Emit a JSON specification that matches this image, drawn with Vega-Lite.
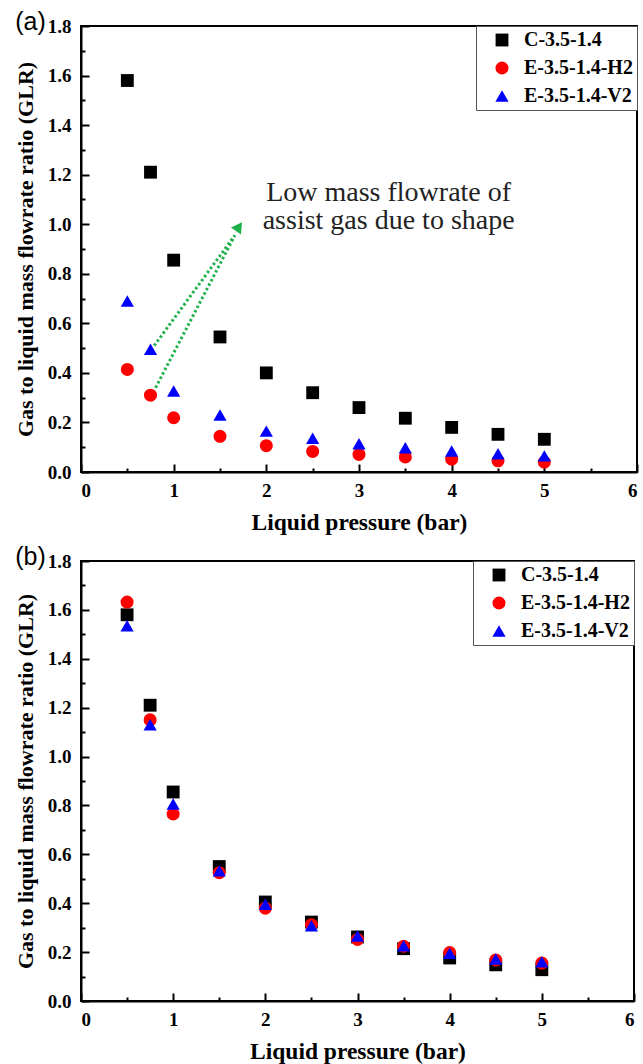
{
  "$schema": "https://vega.github.io/schema/vega-lite/v6.json",
  "padding": {"left": 13, "top": 9, "right": 0, "bottom": 0},
  "spacing": 9,
  "config": {
    "view": {"stroke": "black", "strokeWidth": 2},
    "font": "Liberation Serif",
    "axis": {
      "grid": false,
      "domainColor": "black",
      "domainWidth": 2,
      "tickColor": "black",
      "tickWidth": 2,
      "labelFont": "Liberation Serif",
      "labelFontWeight": "bold",
      "labelFontSize": 19,
      "labelColor": "black",
      "titleFont": "Liberation Serif",
      "titleFontWeight": "bold",
      "titleColor": "black"
    },
    "legend": {
      "orient": "top-right",
      "offset": 0,
      "strokeColor": "#555555",
      "fillColor": "white",
      "padding": 4,
      "labelFont": "Liberation Serif",
      "labelFontWeight": "bold",
      "labelFontSize": 20,
      "labelColor": "black",
      "symbolSize": 170,
      "symbolStrokeWidth": 0,
      "rowPadding": 8,
      "labelOffset": 12,
      "symbolOffset": 12
    },
    "title": {
      "font": "Liberation Sans",
      "fontSize": 25,
      "fontWeight": "normal",
      "color": "black",
      "anchor": "start",
      "frame": "bounds",
      "offset": -18,
      "dx": 1
    }
  },
  "datasets": {
    "a": [
      {"p": 0.5, "glr": 1.58, "series": "C-3.5-1.4"},
      {"p": 0.75, "glr": 1.21, "series": "C-3.5-1.4"},
      {"p": 1, "glr": 0.855, "series": "C-3.5-1.4"},
      {"p": 1.5, "glr": 0.545, "series": "C-3.5-1.4"},
      {"p": 2, "glr": 0.40, "series": "C-3.5-1.4"},
      {"p": 2.5, "glr": 0.32, "series": "C-3.5-1.4"},
      {"p": 3, "glr": 0.26, "series": "C-3.5-1.4"},
      {"p": 3.5, "glr": 0.217, "series": "C-3.5-1.4"},
      {"p": 4, "glr": 0.18, "series": "C-3.5-1.4"},
      {"p": 4.5, "glr": 0.152, "series": "C-3.5-1.4"},
      {"p": 5, "glr": 0.132, "series": "C-3.5-1.4"},
      {"p": 0.5, "glr": 0.414, "series": "E-3.5-1.4-H2"},
      {"p": 0.75, "glr": 0.31, "series": "E-3.5-1.4-H2"},
      {"p": 1, "glr": 0.219, "series": "E-3.5-1.4-H2"},
      {"p": 1.5, "glr": 0.144, "series": "E-3.5-1.4-H2"},
      {"p": 2, "glr": 0.106, "series": "E-3.5-1.4-H2"},
      {"p": 2.5, "glr": 0.083, "series": "E-3.5-1.4-H2"},
      {"p": 3, "glr": 0.071, "series": "E-3.5-1.4-H2"},
      {"p": 3.5, "glr": 0.061, "series": "E-3.5-1.4-H2"},
      {"p": 4, "glr": 0.052, "series": "E-3.5-1.4-H2"},
      {"p": 4.5, "glr": 0.045, "series": "E-3.5-1.4-H2"},
      {"p": 5, "glr": 0.040, "series": "E-3.5-1.4-H2"},
      {"p": 0.5, "glr": 0.69, "series": "E-3.5-1.4-V2"},
      {"p": 0.75, "glr": 0.495, "series": "E-3.5-1.4-V2"},
      {"p": 1, "glr": 0.327, "series": "E-3.5-1.4-V2"},
      {"p": 1.5, "glr": 0.23, "series": "E-3.5-1.4-V2"},
      {"p": 2, "glr": 0.165, "series": "E-3.5-1.4-V2"},
      {"p": 2.5, "glr": 0.136, "series": "E-3.5-1.4-V2"},
      {"p": 3, "glr": 0.114, "series": "E-3.5-1.4-V2"},
      {"p": 3.5, "glr": 0.098, "series": "E-3.5-1.4-V2"},
      {"p": 4, "glr": 0.085, "series": "E-3.5-1.4-V2"},
      {"p": 4.5, "glr": 0.074, "series": "E-3.5-1.4-V2"},
      {"p": 5, "glr": 0.065, "series": "E-3.5-1.4-V2"}
    ],
    "b": [
      {"p": 0.5, "glr": 1.58, "series": "C-3.5-1.4"},
      {"p": 0.75, "glr": 1.21, "series": "C-3.5-1.4"},
      {"p": 1, "glr": 0.855, "series": "C-3.5-1.4"},
      {"p": 1.5, "glr": 0.55, "series": "C-3.5-1.4"},
      {"p": 2, "glr": 0.405, "series": "C-3.5-1.4"},
      {"p": 2.5, "glr": 0.323, "series": "C-3.5-1.4"},
      {"p": 3, "glr": 0.262, "series": "C-3.5-1.4"},
      {"p": 3.5, "glr": 0.214, "series": "C-3.5-1.4"},
      {"p": 4, "glr": 0.176, "series": "C-3.5-1.4"},
      {"p": 4.5, "glr": 0.148, "series": "C-3.5-1.4"},
      {"p": 5, "glr": 0.128, "series": "C-3.5-1.4"},
      {"p": 0.5, "glr": 1.632, "series": "E-3.5-1.4-H2"},
      {"p": 0.75, "glr": 1.15, "series": "E-3.5-1.4-H2"},
      {"p": 1, "glr": 0.765, "series": "E-3.5-1.4-H2"},
      {"p": 1.5, "glr": 0.525, "series": "E-3.5-1.4-H2"},
      {"p": 2, "glr": 0.38, "series": "E-3.5-1.4-H2"},
      {"p": 2.5, "glr": 0.312, "series": "E-3.5-1.4-H2"},
      {"p": 3, "glr": 0.252, "series": "E-3.5-1.4-H2"},
      {"p": 3.5, "glr": 0.224, "series": "E-3.5-1.4-H2"},
      {"p": 4, "glr": 0.198, "series": "E-3.5-1.4-H2"},
      {"p": 4.5, "glr": 0.168, "series": "E-3.5-1.4-H2"},
      {"p": 5, "glr": 0.155, "series": "E-3.5-1.4-H2"},
      {"p": 0.5, "glr": 1.535, "series": "E-3.5-1.4-V2"},
      {"p": 0.75, "glr": 1.13, "series": "E-3.5-1.4-V2"},
      {"p": 1, "glr": 0.806, "series": "E-3.5-1.4-V2"},
      {"p": 1.5, "glr": 0.533, "series": "E-3.5-1.4-V2"},
      {"p": 2, "glr": 0.396, "series": "E-3.5-1.4-V2"},
      {"p": 2.5, "glr": 0.308, "series": "E-3.5-1.4-V2"},
      {"p": 3, "glr": 0.266, "series": "E-3.5-1.4-V2"},
      {"p": 3.5, "glr": 0.226, "series": "E-3.5-1.4-V2"},
      {"p": 4, "glr": 0.195, "series": "E-3.5-1.4-V2"},
      {"p": 4.5, "glr": 0.172, "series": "E-3.5-1.4-V2"},
      {"p": 5, "glr": 0.16, "series": "E-3.5-1.4-V2"}
    ],
    "arrows": [
      {"x1": 0.79, "y1": 0.51, "x2": 1.66, "y2": 0.955},
      {"x1": 0.805, "y1": 0.34, "x2": 1.66, "y2": 0.955}
    ],
    "head": [
      {"x": 1.705, "y": 0.99}
    ],
    "note": [
      {"x": 3.32, "y": 1.094, "text": "Low mass flowrate of"},
      {"x": 3.32, "y": 0.981, "text": "assist gas due to shape"}
    ]
  },
  "vconcat": [
    {
      "title": {"text": "(a)"},
      "width": 556,
      "height": 446,
      "resolve": {"axis": {"x": "independent", "y": "independent"}},
      "layer": [
        {
          "data": {"name": "a"},
          "mark": {"type": "point", "filled": true, "opacity": 1},
          "encoding": {
            "x": {"field": "p", "type": "quantitative", "scale": {"domain": [0, 6], "nice": false},
              "axis": {"orient": "bottom", "values": [0, 1, 2, 3, 4, 5, 6], "format": "d", "tickSize": -8, "labelPadding": 17, "title": "Liquid pressure (bar)", "titleFontSize": 23.5, "titlePadding": 10}},
            "y": {"field": "glr", "type": "quantitative", "scale": {"domain": [0, 1.8], "nice": false},
              "axis": {"orient": "left", "values": [0, 0.2, 0.4, 0.6, 0.8, 1.0, 1.2, 1.4, 1.6, 1.8], "format": ".1f", "tickSize": -8, "labelPadding": 18, "title": "Gas to liquid mass flowrate ratio (GLR)", "titleFontSize": 22, "titlePadding": 10}},
            "color": {"field": "series", "type": "nominal", "scale": {"domain": ["C-3.5-1.4", "E-3.5-1.4-H2", "E-3.5-1.4-V2"], "range": ["#000000", "#ff0000", "#0000ff"]}, "legend": {"title": null}},
            "shape": {"field": "series", "type": "nominal", "scale": {"domain": ["C-3.5-1.4", "E-3.5-1.4-H2", "E-3.5-1.4-V2"], "range": ["square", "circle", "triangle-up"]}, "legend": {"title": null}},
            "size": {"field": "series", "type": "ordinal", "scale": {"domain": ["C-3.5-1.4", "E-3.5-1.4-H2", "E-3.5-1.4-V2"], "range": [165, 175, 250]}, "legend": null}
          }
        },
        {
          "data": {"name": "a"},
          "mark": {"type": "point", "opacity": 0},
          "encoding": {
            "x": {"field": "p", "type": "quantitative", "scale": {"domain": [0, 6], "nice": false},
              "axis": {"orient": "bottom", "values": [0.5, 1.5, 2.5, 3.5, 4.5, 5.5], "labels": false, "domain": false, "tickSize": -4, "title": null}},
            "y": {"field": "glr", "type": "quantitative", "scale": {"domain": [0, 1.8], "nice": false},
              "axis": {"orient": "left", "values": [0.1, 0.3, 0.5, 0.7, 0.9, 1.1, 1.3, 1.5, 1.7], "labels": false, "domain": false, "tickSize": -4, "title": null}}
          }
        },
        {
          "data": {"name": "arrows"},
          "mark": {"type": "rule", "color": "#1fb04c", "strokeWidth": 3, "strokeDash": [2.5, 2.5]},
          "encoding": {
            "x": {"field": "x1", "type": "quantitative", "scale": {"domain": [0, 6], "nice": false}, "axis": null},
            "y": {"field": "y1", "type": "quantitative", "scale": {"domain": [0, 1.8], "nice": false}, "axis": null},
            "x2": {"field": "x2"},
            "y2": {"field": "y2"}
          }
        },
        {
          "data": {"name": "head"},
          "mark": {"type": "point", "shape": "triangle-up", "filled": true, "opacity": 1, "color": "#1fb04c", "size": 150, "angle": 35},
          "encoding": {
            "x": {"field": "x", "type": "quantitative", "scale": {"domain": [0, 6], "nice": false}, "axis": null},
            "y": {"field": "y", "type": "quantitative", "scale": {"domain": [0, 1.8], "nice": false}, "axis": null}
          }
        },
        {
          "data": {"name": "note"},
          "mark": {"type": "text", "font": "Liberation Serif", "fontSize": 28, "align": "center", "baseline": "alphabetic", "color": "#222222"},
          "encoding": {
            "x": {"field": "x", "type": "quantitative", "scale": {"domain": [0, 6], "nice": false}, "axis": null},
            "y": {"field": "y", "type": "quantitative", "scale": {"domain": [0, 1.8], "nice": false}, "axis": null},
            "text": {"field": "text"}
          }
        }
      ]
    },
    {
      "title": {"text": "(b)"},
      "width": 553,
      "height": 440,
      "resolve": {"axis": {"x": "independent", "y": "independent"}},
      "layer": [
        {
          "data": {"name": "b"},
          "mark": {"type": "point", "filled": true, "opacity": 1},
          "encoding": {
            "x": {"field": "p", "type": "quantitative", "scale": {"domain": [0, 6], "nice": false},
              "axis": {"orient": "bottom", "values": [0, 1, 2, 3, 4, 5, 6], "format": "d", "tickSize": -8, "labelPadding": 17, "title": "Liquid pressure (bar)", "titleFontSize": 23.5, "titlePadding": 10}},
            "y": {"field": "glr", "type": "quantitative", "scale": {"domain": [0, 1.8], "nice": false},
              "axis": {"orient": "left", "values": [0, 0.2, 0.4, 0.6, 0.8, 1.0, 1.2, 1.4, 1.6, 1.8], "format": ".1f", "tickSize": -8, "labelPadding": 18, "title": "Gas to liquid mass flowrate ratio (GLR)", "titleFontSize": 22, "titlePadding": 10}},
            "color": {"field": "series", "type": "nominal", "scale": {"domain": ["C-3.5-1.4", "E-3.5-1.4-H2", "E-3.5-1.4-V2"], "range": ["#000000", "#ff0000", "#0000ff"]}, "legend": {"title": null}},
            "shape": {"field": "series", "type": "nominal", "scale": {"domain": ["C-3.5-1.4", "E-3.5-1.4-H2", "E-3.5-1.4-V2"], "range": ["square", "circle", "triangle-up"]}, "legend": {"title": null}},
            "size": {"field": "series", "type": "ordinal", "scale": {"domain": ["C-3.5-1.4", "E-3.5-1.4-H2", "E-3.5-1.4-V2"], "range": [165, 175, 250]}, "legend": null}
          }
        },
        {
          "data": {"name": "b"},
          "mark": {"type": "point", "opacity": 0},
          "encoding": {
            "x": {"field": "p", "type": "quantitative", "scale": {"domain": [0, 6], "nice": false},
              "axis": {"orient": "bottom", "values": [0.5, 1.5, 2.5, 3.5, 4.5, 5.5], "labels": false, "domain": false, "tickSize": -4, "title": null}},
            "y": {"field": "glr", "type": "quantitative", "scale": {"domain": [0, 1.8], "nice": false},
              "axis": {"orient": "left", "values": [0.1, 0.3, 0.5, 0.7, 0.9, 1.1, 1.3, 1.5, 1.7], "labels": false, "domain": false, "tickSize": -4, "title": null}}
          }
        }
      ]
    }
  ],
  "resolve": {"scale": {"color": "independent", "shape": "independent", "size": "independent"}, "legend": {"color": "independent", "shape": "independent"}}
}
